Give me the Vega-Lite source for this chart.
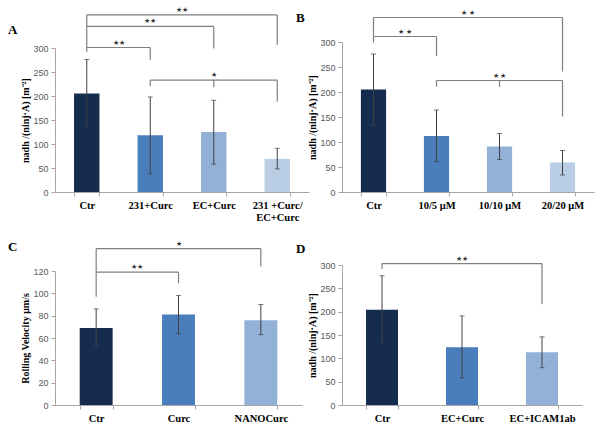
{
  "$schema": "https://vega.github.io/schema/vega-lite/v6.json",
  "padding": {"left": 8, "top": 5, "right": 2, "bottom": 2},
  "background": "white",
  "config": {
    "view": {"stroke": null},
    "axis": {"grid": false},
    "axisX": {"labelAngle": 0, "labelFont": "Liberation Serif", "labelFontWeight": "bold", "labelFontSize": 10.5, "labelColor": "#000", "domainColor": "#a6a6a6", "tickColor": "#a6a6a6", "tickSize": 4, "tickBand": "extent", "labelPadding": 4, "labelLineHeight": 12},
    "axisY": {"labelFont": "Liberation Sans", "labelFontSize": 9, "labelColor": "#595959", "domainColor": "#a6a6a6", "tickColor": "#a6a6a6", "tickSize": 4, "labelPadding": 3, "titleFont": "Liberation Serif", "titleFontWeight": "bold", "titleFontSize": 10, "titleColor": "#000", "titlePadding": 2},
    "title": {"anchor": "start", "frame": "group", "offset": 0, "baseline": "alphabetic", "font": "Liberation Serif", "fontSize": 13, "fontWeight": "bold", "color": "#000"}
  },
  "resolve": {"scale": {"color": "independent"}},
  "datasets": {
    "barsA": [
      {"cat": "Ctr", "mean": 205, "lo": 134, "hi": 276},
      {"cat": "231+Curc", "mean": 118, "lo": 38, "hi": 198},
      {"cat": "EC+Curc", "mean": 125, "lo": 58, "hi": 191},
      {"cat": "231 +Curc/EC+Curc", "mean": 69, "lo": 48, "hi": 91}
    ],
    "hA": [
      {"from": "Ctr", "to": "231 +Curc/EC+Curc", "y": 369},
      {"from": "Ctr", "to": "EC+Curc", "y": 345},
      {"from": "Ctr", "to": "231+Curc", "y": 301},
      {"from": "231+Curc", "to": "231 +Curc/EC+Curc", "y": 233}
    ],
    "vA": [
      {"cat": "Ctr", "top": 369, "bottom": 292},
      {"cat": "231+Curc", "top": 301, "bottom": 275},
      {"cat": "EC+Curc", "top": 345, "bottom": 299},
      {"cat": "231 +Curc/EC+Curc", "top": 369, "bottom": 306},
      {"cat": "231+Curc", "top": 233, "bottom": 221},
      {"cat": "EC+Curc", "top": 233, "bottom": 218},
      {"cat": "231 +Curc/EC+Curc", "top": 233, "bottom": 188}
    ],
    "sA": [
      {"pos": 2.0, "y": 369, "lab": "★★"},
      {"pos": 1.5, "y": 345, "lab": "★★"},
      {"pos": 1.0, "y": 301, "lab": "★★"},
      {"pos": 2.5, "y": 233, "lab": "★"}
    ],
    "barsB": [
      {"cat": "Ctr", "mean": 205, "lo": 133, "hi": 276},
      {"cat": "10/5 μM", "mean": 112, "lo": 61, "hi": 164},
      {"cat": "10/10 μM", "mean": 91, "lo": 65, "hi": 117},
      {"cat": "20/20 μM", "mean": 59, "lo": 34, "hi": 83}
    ],
    "hB": [
      {"from": "Ctr", "to": "20/20 μM", "y": 349},
      {"from": "Ctr", "to": "10/5 μM", "y": 311},
      {"from": "10/5 μM", "to": "20/20 μM", "y": 223}
    ],
    "vB": [
      {"cat": "Ctr", "top": 349, "bottom": 299},
      {"cat": "10/5 μM", "top": 311, "bottom": 272},
      {"cat": "20/20 μM", "top": 349, "bottom": 241},
      {"cat": "10/5 μM", "top": 223, "bottom": 211},
      {"cat": "10/10 μM", "top": 223, "bottom": 210},
      {"cat": "20/20 μM", "top": 223, "bottom": 151}
    ],
    "sB": [
      {"pos": 2.0, "y": 349, "lab": "★ ★"},
      {"pos": 1.0, "y": 311, "lab": "★ ★"},
      {"pos": 2.5, "y": 223, "lab": "★ ★"}
    ],
    "barsC": [
      {"cat": "Ctr", "mean": 69, "lo": 53, "hi": 86},
      {"cat": "Curc", "mean": 81, "lo": 64, "hi": 98},
      {"cat": "NANOCurc", "mean": 76, "lo": 63, "hi": 90}
    ],
    "hC": [
      {"from": "Ctr", "to": "NANOCurc", "y": 140},
      {"from": "Ctr", "to": "Curc", "y": 119}
    ],
    "vC": [
      {"cat": "Ctr", "top": 140, "bottom": 97},
      {"cat": "Curc", "top": 119, "bottom": 109},
      {"cat": "NANOCurc", "top": 140, "bottom": 124}
    ],
    "sC": [
      {"pos": 1.5, "y": 140, "lab": "★"},
      {"pos": 1.0, "y": 119, "lab": "★★"}
    ],
    "barsD": [
      {"cat": "Ctr", "mean": 204, "lo": 133, "hi": 277},
      {"cat": "EC+Curc", "mean": 124, "lo": 58, "hi": 191},
      {"cat": "EC+ICAM1ab", "mean": 113, "lo": 80, "hi": 146}
    ],
    "hD": [
      {"from": "Ctr", "to": "EC+ICAM1ab", "y": 303}
    ],
    "vD": [
      {"cat": "Ctr", "top": 303, "bottom": 292},
      {"cat": "EC+ICAM1ab", "top": 303, "bottom": 216}
    ],
    "sD": [
      {"pos": 1.5, "y": 303, "lab": "★★"}
    ]
  },
  "columns": 2,
  "spacing": {"row": 40, "column": 33},
  "bounds": "flush",
  "concat": [
    {
      "width": 254, "height": 187,
      "title": {"text": "A", "dx": -47, "dy": 36},
      "resolve": {"scale": {"x": "independent"}},
      "layer": [
        {"layer": [
          {"data": {"name": "barsA"}, "mark": {"type": "bar"},
           "encoding": {
             "x": {"field": "cat", "type": "nominal", "scale": {"domain": ["Ctr", "231+Curc", "EC+Curc", "231 +Curc/EC+Curc"], "paddingInner": 0.6, "paddingOuter": 0.3},
                   "axis": {"title": null, "labelExpr": "datum.label == '231 +Curc/EC+Curc' ? ['231 +Curc/', 'EC+Curc'] : datum.label"}},
             "y": {"field": "mean", "type": "quantitative", "scale": {"domain": [0, 300], "range": [187, 43], "nice": false},
                   "axis": {"values": [0, 50, 100, 150, 200, 250, 300], "title": "nadh /(ninj·A) [m⁻²]"}},
             "color": {"field": "cat", "type": "nominal", "scale": {"domain": ["Ctr", "231+Curc", "EC+Curc", "231 +Curc/EC+Curc"], "range": ["#152c4e", "#4a7dbb", "#93b1d6", "#b9cde5"]}, "legend": null}
           }},
          {"data": {"name": "barsA"}, "mark": {"type": "errorbar", "color": "#404040", "thickness": 1, "ticks": {"size": 5}},
           "encoding": {
             "x": {"field": "cat", "type": "nominal", "axis": {"title": null, "labelExpr": "datum.label == '231 +Curc/EC+Curc' ? ['231 +Curc/', 'EC+Curc'] : datum.label"}},
             "y": {"field": "lo", "type": "quantitative", "scale": {"domain": [0, 300], "range": [187, 43], "nice": false}, "axis": {"values": [0, 50, 100, 150, 200, 250, 300], "title": "nadh /(ninj·A) [m⁻²]"}},
             "y2": {"field": "hi"}
           }},
          {"data": {"name": "hA"}, "mark": {"type": "rule", "color": "#7f7f7f", "strokeWidth": 1.2},
           "encoding": {
             "x": {"field": "from", "type": "nominal", "axis": {"title": null, "labelExpr": "datum.label == '231 +Curc/EC+Curc' ? ['231 +Curc/', 'EC+Curc'] : datum.label"}},
             "x2": {"field": "to"},
             "y": {"field": "y", "type": "quantitative", "scale": {"domain": [0, 300], "range": [187, 43], "nice": false}, "axis": {"values": [0, 50, 100, 150, 200, 250, 300], "title": "nadh /(ninj·A) [m⁻²]"}}
           }},
          {"data": {"name": "vA"}, "mark": {"type": "rule", "color": "#7f7f7f", "strokeWidth": 1.2},
           "encoding": {
             "x": {"field": "cat", "type": "nominal", "axis": {"title": null, "labelExpr": "datum.label == '231 +Curc/EC+Curc' ? ['231 +Curc/', 'EC+Curc'] : datum.label"}},
             "y": {"field": "top", "type": "quantitative", "scale": {"domain": [0, 300], "range": [187, 43], "nice": false}, "axis": {"values": [0, 50, 100, 150, 200, 250, 300], "title": "nadh /(ninj·A) [m⁻²]"}},
             "y2": {"field": "bottom"}
           }}
        ]},
        {"data": {"name": "sA"}, "mark": {"type": "text", "fontSize": 7, "color": "#333333", "baseline": "middle", "dy": -5},
         "encoding": {
           "x": {"field": "pos", "type": "quantitative", "scale": {"domain": [0, 4], "nice": false, "zero": false}, "axis": null},
           "y": {"field": "y", "type": "quantitative", "scale": {"domain": [0, 300], "range": [187, 43], "nice": false}, "axis": {"values": [0, 50, 100, 150, 200, 250, 300], "title": "nadh /(ninj·A) [m⁻²]"}},
           "text": {"field": "lab"}
         }}
      ]
    },
    {
      "width": 252, "height": 187,
      "title": {"text": "B", "dx": -46, "dy": 24},
      "resolve": {"scale": {"x": "independent"}},
      "layer": [
        {"layer": [
          {"data": {"name": "barsB"}, "mark": {"type": "bar"},
           "encoding": {
             "x": {"field": "cat", "type": "nominal", "scale": {"domain": ["Ctr", "10/5 μM", "10/10 μM", "20/20 μM"], "paddingInner": 0.6, "paddingOuter": 0.3}, "axis": {"title": null}},
             "y": {"field": "mean", "type": "quantitative", "scale": {"domain": [0, 300], "range": [187, 37], "nice": false},
                   "axis": {"values": [0, 50, 100, 150, 200, 250, 300], "title": "nadh /(ninj·A) [m⁻²]"}},
             "color": {"field": "cat", "type": "nominal", "scale": {"domain": ["Ctr", "10/5 μM", "10/10 μM", "20/20 μM"], "range": ["#152c4e", "#4a7dbb", "#93b1d6", "#b9cde5"]}, "legend": null}
           }},
          {"data": {"name": "barsB"}, "mark": {"type": "errorbar", "color": "#404040", "thickness": 1, "ticks": {"size": 5}},
           "encoding": {
             "x": {"field": "cat", "type": "nominal", "axis": {"title": null}},
             "y": {"field": "lo", "type": "quantitative", "scale": {"domain": [0, 300], "range": [187, 37], "nice": false}, "axis": {"values": [0, 50, 100, 150, 200, 250, 300], "title": "nadh /(ninj·A) [m⁻²]"}},
             "y2": {"field": "hi"}
           }},
          {"data": {"name": "hB"}, "mark": {"type": "rule", "color": "#7f7f7f", "strokeWidth": 1.2},
           "encoding": {
             "x": {"field": "from", "type": "nominal", "axis": {"title": null}},
             "x2": {"field": "to"},
             "y": {"field": "y", "type": "quantitative", "scale": {"domain": [0, 300], "range": [187, 37], "nice": false}, "axis": {"values": [0, 50, 100, 150, 200, 250, 300], "title": "nadh /(ninj·A) [m⁻²]"}}
           }},
          {"data": {"name": "vB"}, "mark": {"type": "rule", "color": "#7f7f7f", "strokeWidth": 1.2},
           "encoding": {
             "x": {"field": "cat", "type": "nominal", "axis": {"title": null}},
             "y": {"field": "top", "type": "quantitative", "scale": {"domain": [0, 300], "range": [187, 37], "nice": false}, "axis": {"values": [0, 50, 100, 150, 200, 250, 300], "title": "nadh /(ninj·A) [m⁻²]"}},
             "y2": {"field": "bottom"}
           }}
        ]},
        {"data": {"name": "sB"}, "mark": {"type": "text", "fontSize": 7, "color": "#333333", "baseline": "middle", "dy": -5},
         "encoding": {
           "x": {"field": "pos", "type": "quantitative", "scale": {"domain": [0, 4], "nice": false, "zero": false}, "axis": null},
           "y": {"field": "y", "type": "quantitative", "scale": {"domain": [0, 300], "range": [187, 37], "nice": false}, "axis": {"values": [0, 50, 100, 150, 200, 250, 300], "title": "nadh /(ninj·A) [m⁻²]"}},
           "text": {"field": "lab"}
         }}
      ]
    },
    {
      "width": 247, "height": 173,
      "title": {"text": "C", "dx": -47, "dy": 26},
      "resolve": {"scale": {"x": "independent"}},
      "layer": [
        {"layer": [
          {"data": {"name": "barsC"}, "mark": {"type": "bar"},
           "encoding": {
             "x": {"field": "cat", "type": "nominal", "scale": {"domain": ["Ctr", "Curc", "NANOCurc"], "paddingInner": 0.6, "paddingOuter": 0.3}, "axis": {"title": null}},
             "y": {"field": "mean", "type": "quantitative", "scale": {"domain": [0, 120], "range": [173, 39], "nice": false},
                   "axis": {"values": [0, 20, 40, 60, 80, 100, 120], "title": "Rolling Velocity μm/s"}},
             "color": {"field": "cat", "type": "nominal", "scale": {"domain": ["Ctr", "Curc", "NANOCurc"], "range": ["#152c4e", "#4a7dbb", "#93b1d6"]}, "legend": null}
           }},
          {"data": {"name": "barsC"}, "mark": {"type": "errorbar", "color": "#404040", "thickness": 1, "ticks": {"size": 5}},
           "encoding": {
             "x": {"field": "cat", "type": "nominal", "axis": {"title": null}},
             "y": {"field": "lo", "type": "quantitative", "scale": {"domain": [0, 120], "range": [173, 39], "nice": false}, "axis": {"values": [0, 20, 40, 60, 80, 100, 120], "title": "Rolling Velocity μm/s"}},
             "y2": {"field": "hi"}
           }},
          {"data": {"name": "hC"}, "mark": {"type": "rule", "color": "#7f7f7f", "strokeWidth": 1.2},
           "encoding": {
             "x": {"field": "from", "type": "nominal", "axis": {"title": null}},
             "x2": {"field": "to"},
             "y": {"field": "y", "type": "quantitative", "scale": {"domain": [0, 120], "range": [173, 39], "nice": false}, "axis": {"values": [0, 20, 40, 60, 80, 100, 120], "title": "Rolling Velocity μm/s"}}
           }},
          {"data": {"name": "vC"}, "mark": {"type": "rule", "color": "#7f7f7f", "strokeWidth": 1.2},
           "encoding": {
             "x": {"field": "cat", "type": "nominal", "axis": {"title": null}},
             "y": {"field": "top", "type": "quantitative", "scale": {"domain": [0, 120], "range": [173, 39], "nice": false}, "axis": {"values": [0, 20, 40, 60, 80, 100, 120], "title": "Rolling Velocity μm/s"}},
             "y2": {"field": "bottom"}
           }}
        ]},
        {"data": {"name": "sC"}, "mark": {"type": "text", "fontSize": 7, "color": "#333333", "baseline": "middle", "dy": -5},
         "encoding": {
           "x": {"field": "pos", "type": "quantitative", "scale": {"domain": [0, 3], "nice": false, "zero": false}, "axis": null},
           "y": {"field": "y", "type": "quantitative", "scale": {"domain": [0, 120], "range": [173, 39], "nice": false}, "axis": {"values": [0, 20, 40, 60, 80, 100, 120], "title": "Rolling Velocity μm/s"}},
           "text": {"field": "lab"}
         }}
      ]
    },
    {
      "width": 240, "height": 173,
      "title": {"text": "D", "dx": -46, "dy": 28},
      "resolve": {"scale": {"x": "independent"}},
      "layer": [
        {"layer": [
          {"data": {"name": "barsD"}, "mark": {"type": "bar"},
           "encoding": {
             "x": {"field": "cat", "type": "nominal", "scale": {"domain": ["Ctr", "EC+Curc", "EC+ICAM1ab"], "paddingInner": 0.6, "paddingOuter": 0.3}, "axis": {"title": null}},
             "y": {"field": "mean", "type": "quantitative", "scale": {"domain": [0, 300], "range": [173, 33], "nice": false},
                   "axis": {"values": [0, 50, 100, 150, 200, 250, 300], "title": "nadh /(ninj·A) [m⁻²]"}},
             "color": {"field": "cat", "type": "nominal", "scale": {"domain": ["Ctr", "EC+Curc", "EC+ICAM1ab"], "range": ["#152c4e", "#4a7dbb", "#93b1d6"]}, "legend": null}
           }},
          {"data": {"name": "barsD"}, "mark": {"type": "errorbar", "color": "#404040", "thickness": 1, "ticks": {"size": 5}},
           "encoding": {
             "x": {"field": "cat", "type": "nominal", "axis": {"title": null}},
             "y": {"field": "lo", "type": "quantitative", "scale": {"domain": [0, 300], "range": [173, 33], "nice": false}, "axis": {"values": [0, 50, 100, 150, 200, 250, 300], "title": "nadh /(ninj·A) [m⁻²]"}},
             "y2": {"field": "hi"}
           }},
          {"data": {"name": "hD"}, "mark": {"type": "rule", "color": "#7f7f7f", "strokeWidth": 1.2},
           "encoding": {
             "x": {"field": "from", "type": "nominal", "axis": {"title": null}},
             "x2": {"field": "to"},
             "y": {"field": "y", "type": "quantitative", "scale": {"domain": [0, 300], "range": [173, 33], "nice": false}, "axis": {"values": [0, 50, 100, 150, 200, 250, 300], "title": "nadh /(ninj·A) [m⁻²]"}}
           }},
          {"data": {"name": "vD"}, "mark": {"type": "rule", "color": "#7f7f7f", "strokeWidth": 1.2},
           "encoding": {
             "x": {"field": "cat", "type": "nominal", "axis": {"title": null}},
             "y": {"field": "top", "type": "quantitative", "scale": {"domain": [0, 300], "range": [173, 33], "nice": false}, "axis": {"values": [0, 50, 100, 150, 200, 250, 300], "title": "nadh /(ninj·A) [m⁻²]"}},
             "y2": {"field": "bottom"}
           }}
        ]},
        {"data": {"name": "sD"}, "mark": {"type": "text", "fontSize": 7, "color": "#333333", "baseline": "middle", "dy": -5},
         "encoding": {
           "x": {"field": "pos", "type": "quantitative", "scale": {"domain": [0, 3], "nice": false, "zero": false}, "axis": null},
           "y": {"field": "y", "type": "quantitative", "scale": {"domain": [0, 300], "range": [173, 33], "nice": false}, "axis": {"values": [0, 50, 100, 150, 200, 250, 300], "title": "nadh /(ninj·A) [m⁻²]"}},
           "text": {"field": "lab"}
         }}
      ]
    }
  ]
}
